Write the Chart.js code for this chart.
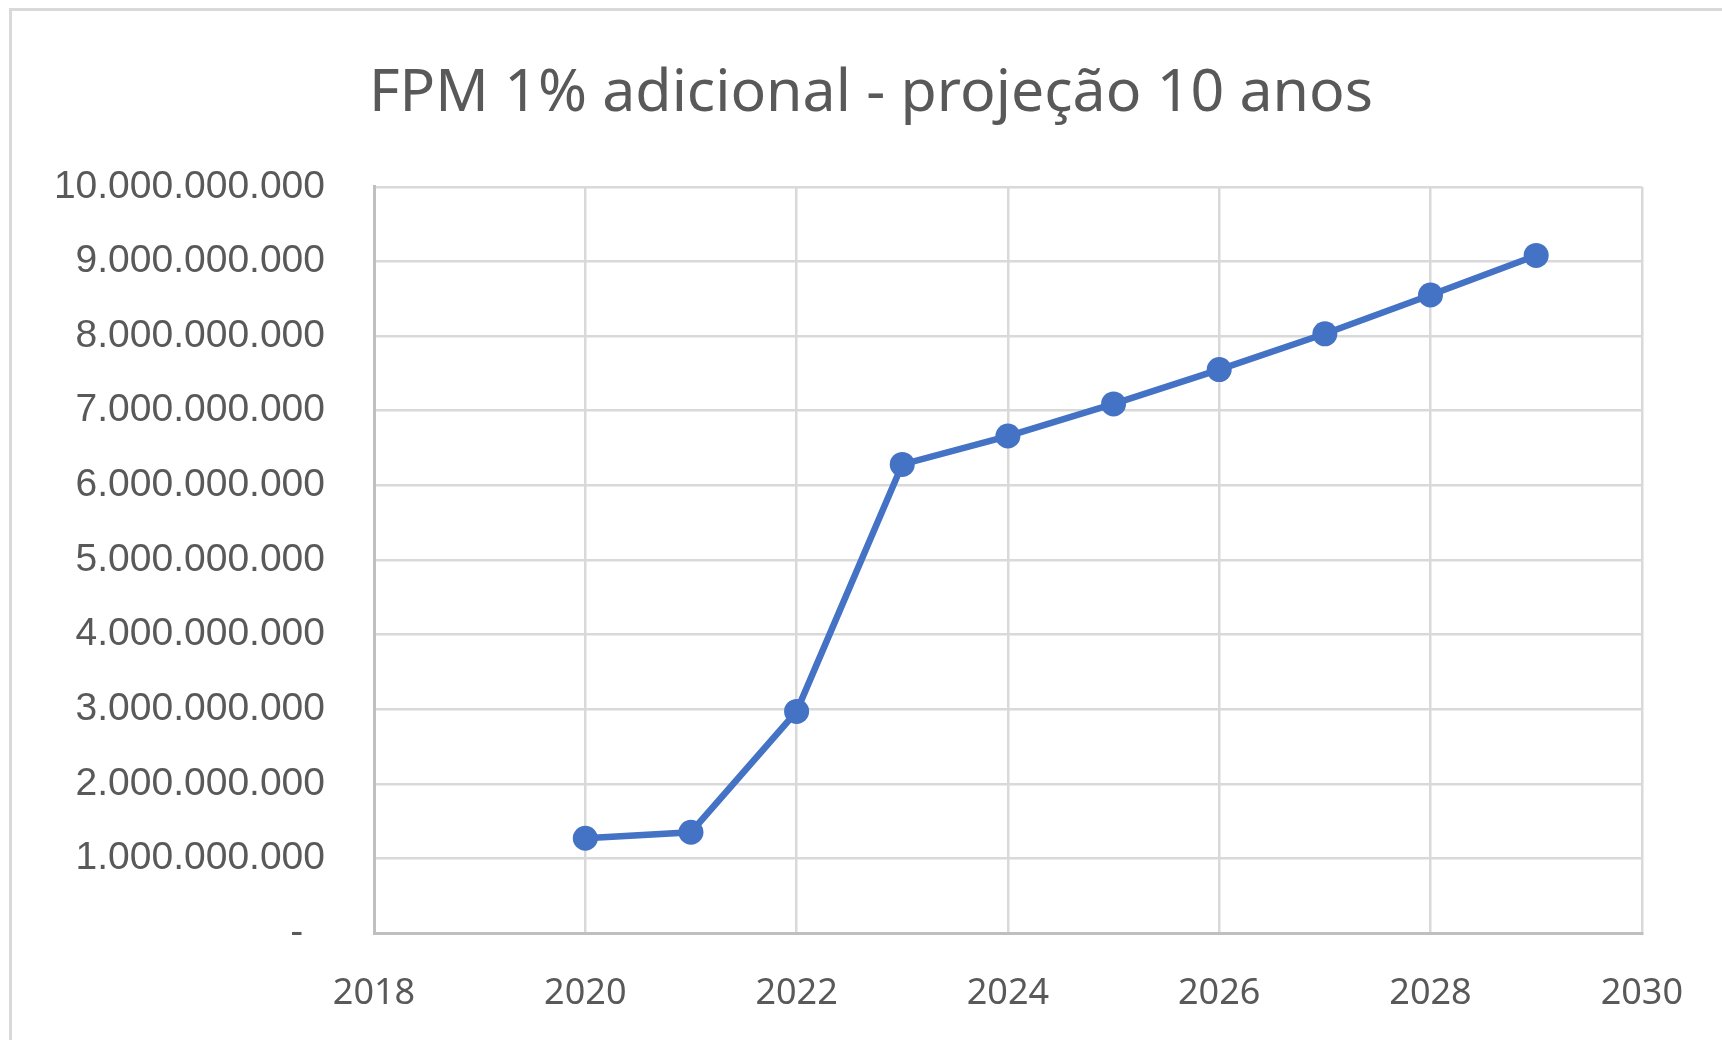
<!DOCTYPE html>
<html>
<head>
<meta charset="utf-8">
<script src="https://cdn.jsdelivr.net/npm/chart.js@4"></script>
<style>
  html, body { margin: 0; padding: 0; background: #fff; }
  #wrap { position: relative; width: 1722px; height: 1040px; }
  #frame {
    position: absolute; left: 9px; top: 8px; right: -10px; bottom: -10px;
    border-left: 3px solid #d9d9d9; border-top: 3px solid #d9d9d9;
    pointer-events: none;
  }
  canvas { position: absolute; left: 0; top: 0; }
</style>
</head>
<body>
<div id="wrap">
  <canvas id="chart" width="1722" height="1040"></canvas>
  <div id="frame"></div>
</div>
<script>
// dados
const anos = [2020, 2021, 2022, 2023, 2024, 2025, 2026, 2027, 2028, 2029];
const valores = [1.27e9, 1.35e9, 2.97e9, 6.28e9, 6.66e9, 7.09e9, 7.55e9, 8.03e9, 8.55e9, 9.08e9];
const tituloGrafico = "FPM 1% adicional - projeção 10 anos";

const cinza = "#595959";
const azul = "#4472C4";

// formata 10000000000 -> 10.000.000.000 (zero vira "-" como no Excel)
const formatarMilhar = (v) => {
  if (v === 0) return "-\u00a0\u00a0";
  return Math.round(v).toString().replace(/\B(?=(\d{3})+(?!\d))/g, ".");
};

const pontos = anos.map((ano, i) => ({ x: ano, y: valores[i] }));

// o titulo no original fica um pouco deslocado para a direita
const ajusteTitulo = {
  id: "ajusteTitulo",
  afterLayout(chart) {
    chart.titleBlock.left = 100;
    chart.titleBlock.right = 1642;
  },
};

const ctx = document.getElementById("chart").getContext("2d");
new Chart(ctx, {
  type: "line",
  data: {
    datasets: [
      {
        label: "FPM",
        data: pontos,
        borderColor: azul,
        backgroundColor: azul,
        borderWidth: 6.5,
        pointRadius: 12.5,
        pointBorderWidth: 0,
        pointBackgroundColor: azul,
        tension: 0,
      },
    ],
  },
  plugins: [ajusteTitulo],
  options: {
    responsive: false,
    animation: false,
    layout: { padding: { left: 0, right: 80, top: 0, bottom: 0 } },
    plugins: {
      legend: { display: false },
      tooltip: { enabled: false },
      title: {
        display: true,
        text: tituloGrafico,
        color: cinza,
        font: { family: "'Noto Sans'", size: 59, weight: "normal", lineHeight: 1.2 },
        padding: { top: 59, bottom: 57 },
      },
    },
    scales: {
      x: {
        type: "linear",
        min: 2018,
        max: 2030,
        afterFit: (scale) => { scale.height = 107; },
        ticks: {
          stepSize: 2,
          color: cinza,
          padding: 39,
          font: { family: "'Noto Sans'", size: 36 },
          callback: (v) => String(v),
        },
        grid: { color: "#d9d9d9", lineWidth: 2.5, drawTicks: false },
        border: { color: "#bfbfbf", width: 3 },
      },
      y: {
        min: 0,
        max: 10e9,
        afterFit: (scale) => { scale.width = 374; },
        ticks: {
          stepSize: 1e9,
          color: cinza,
          padding: 49,
          font: { family: "'Liberation Sans'", size: 39 },
          callback: (v) => formatarMilhar(v),
        },
        grid: { color: "#d9d9d9", lineWidth: 2.5, drawTicks: false },
        border: { color: "#bfbfbf", width: 3 },
      },
    },
  },
});
</script>
</body>
</html>
